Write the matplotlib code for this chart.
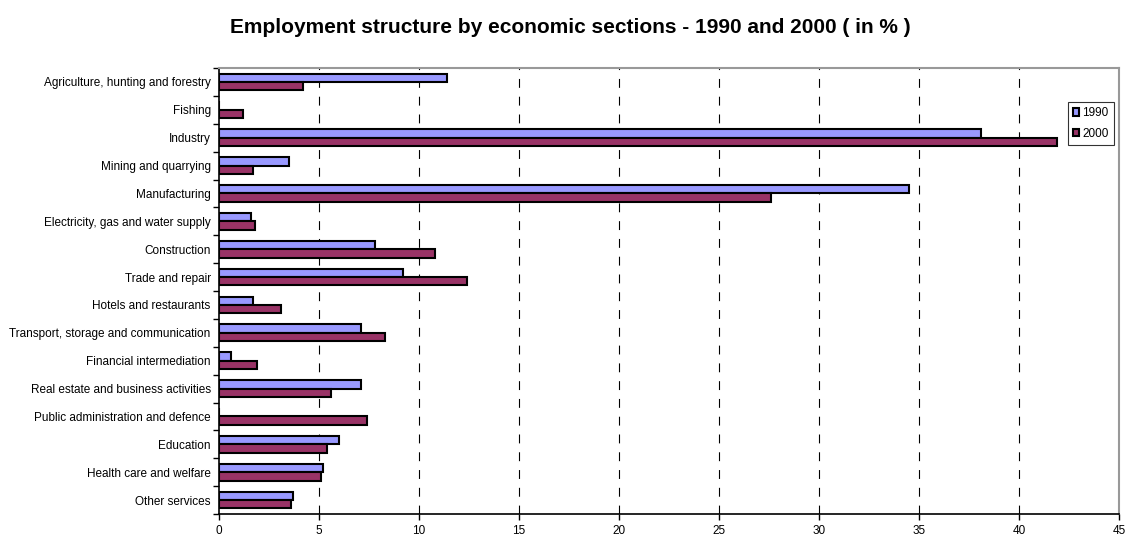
import numpy as np
import matplotlib
matplotlib.use("Agg")
import matplotlib.pyplot as plt
from matplotlib.ticker import FixedLocator

plt.rcParams['font.family'] = ['Liberation Sans', 'DejaVu Sans']

# Sections, top to bottom
sections = [
    "Agriculture, hunting and forestry", "Fishing", "Industry",
    "Mining and quarrying", "Manufacturing",
    "Electricity, gas and water supply", "Construction", "Trade and repair",
    "Hotels and restaurants", "Transport, storage and communication",
    "Financial intermediation", "Real estate and business activities",
    "Public administration and defence", "Education",
    "Health care and welfare", "Other services",
]
v1990 = [11.4, 0.0, 38.1, 3.5, 34.5, 1.6, 7.8, 9.2, 1.7, 7.1, 0.6, 7.1, 0.0, 6.0, 5.2, 3.7]
v2000 = [4.2, 1.2, 41.9, 1.7, 27.6, 1.8, 10.8, 12.4, 3.1, 8.3, 1.9, 5.6, 7.4, 5.4, 5.1, 3.6]
xticks = [0, 5, 10, 15, 20, 25, 30, 35, 40, 45]

fig = plt.figure(figsize=(11.25, 5.37), dpi=100)
ax = fig.add_axes([219 / 1125, 1 - 514 / 537, 900 / 1125, 446 / 537])

y = np.arange(len(sections))
h = 0.3
ax.barh(y - h / 2, v1990, height=h, color="#9999FF", edgecolor="black",
        linewidth=1.5, label="1990", zorder=3)
ax.barh(y + h / 2, v2000, height=h, color="#993366", edgecolor="black",
        linewidth=1.5, label="2000", zorder=3)

ax.set_ylim(len(sections) - 0.5, -0.5)
ax.set_xlim(0, 45)
ax.set_yticks(y)
ax.set_yticklabels(sections, fontsize=8.5)
ax.yaxis.set_minor_locator(FixedLocator(np.arange(-0.5, len(sections), 1.0)))
ax.tick_params(axis="y", which="major", length=0, pad=6)
ax.tick_params(axis="y", which="minor", length=4, width=1, direction="out")
ax.set_xticks(xticks)
ax.tick_params(axis="x", labelsize=8.5, length=4, width=1, direction="out", pad=4)

for xv in xticks[1:-1]:
    ax.axvline(xv, color="black", linewidth=0.8, linestyle=(0, (8, 8)), zorder=1)

ax.spines["left"].set_linewidth(1.2)
ax.spines["bottom"].set_linewidth(1.2)
ax.spines["top"].set_color("#999999")
ax.spines["right"].set_color("#999999")
ax.spines["top"].set_linewidth(1.5)
ax.spines["right"].set_linewidth(1.5)

leg = ax.legend(loc="upper right", bbox_to_anchor=(0.9944, 0.924),
                prop={"size": 8.5}, frameon=True, fancybox=False,
                borderaxespad=0, handlelength=0.55, handleheight=0.55,
                handletextpad=0.25, borderpad=0.45, labelspacing=0.75)
leg.get_frame().set_edgecolor("black")
leg.get_frame().set_linewidth(0.8)

fig.text(570 / 1125, 1 - 33 / 537,
         "Employment structure by economic sections - 1990 and 2000 ( in % )",
         ha="center", va="baseline", fontsize=15, fontweight="bold")

fig.savefig("out.png", dpi=100)
